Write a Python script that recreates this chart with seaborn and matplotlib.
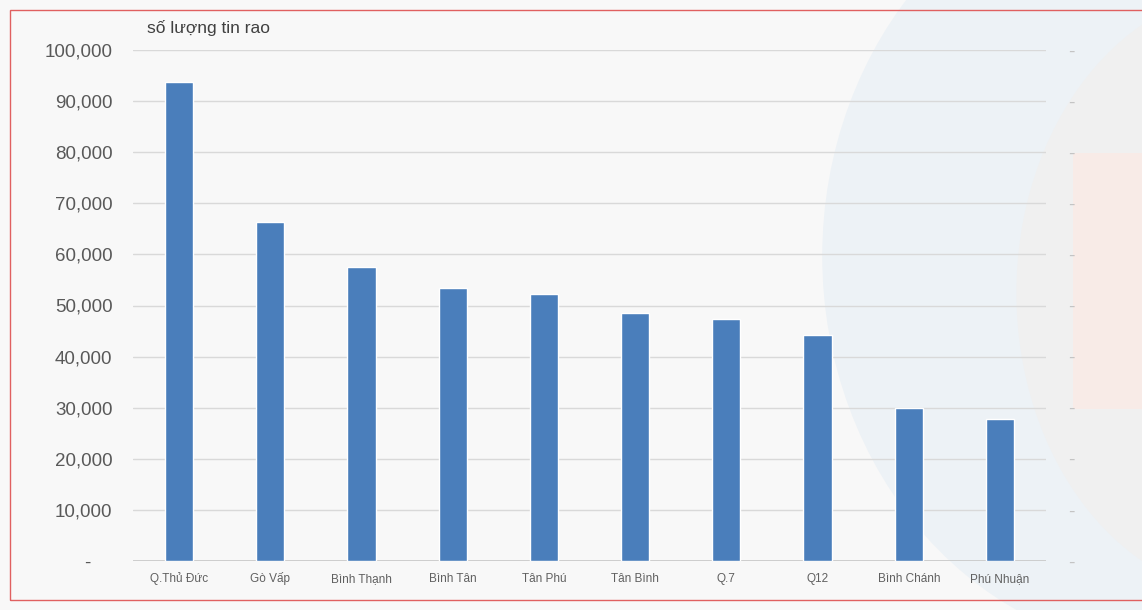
import matplotlib
matplotlib.use("Agg")
import matplotlib.pyplot as plt
import matplotlib.transforms as mtransforms
from matplotlib.patches import Ellipse, Rectangle
from matplotlib.ticker import FuncFormatter
import seaborn as sns
import pandas as pd

# Listings count by district
districts = ["Q.Thủ Đức", "Gò Vấp", "Bình Thạnh", "Bình Tân", "Tân Phú",
             "Tân Bình", "Q.7", "Q12", "Bình Chánh", "Phú Nhuận"]
listings = [93700, 66300, 57500, 53500, 52300, 48600, 47400, 44300, 30000, 27700]
y_ticks = [0, 10000, 20000, 30000, 40000, 50000, 60000, 70000, 80000, 90000, 100000]
y_title = "số lượng tin rao"

df = pd.DataFrame({"district": districts, "listings": listings})

sns.set_theme(style="white")
plt.rcParams["font.family"] = ["Liberation Sans", "DejaVu Sans"]

fig = plt.figure(figsize=(11.42, 6.10), dpi=100, facecolor="#f8f8f8")

# soft decorative background shapes (drawn beneath the axes)
fig.patches.append(Ellipse((1.03, 0.58), 0.62, 1.30, transform=fig.transFigure,
                           facecolor="#edf2f6", edgecolor="none", zorder=0))
fig.patches.append(Ellipse((1.10, 0.52), 0.42, 1.00, transform=fig.transFigure,
                           facecolor="#f0f0f0", edgecolor="none", zorder=0))
fig.patches.append(Rectangle((0.94, 0.33), 0.07, 0.42, transform=fig.transFigure,
                             facecolor="#f8ebe7", edgecolor="none", zorder=0))
# chart frame
fig.patches.append(Rectangle((10 / 1142, 10 / 610), 1.2, 1 - 20 / 610,
                             transform=fig.transFigure, fill=False,
                             edgecolor="#e06060", linewidth=1.0, zorder=1))

ax = fig.add_axes([133.4 / 1142, (610 - 561) / 610, 912.2 / 1142, 511 / 610])
ax.set_facecolor("none")

sns.barplot(data=df, x="district", y="listings", color="#4a7ebb",
            width=0.31, saturation=1, ax=ax, zorder=3)

ax.set_ylim(0, 100000)
ax.set_xlim(-0.5, len(districts) - 0.5)
ax.set_yticks(y_ticks)
ax.yaxis.set_major_formatter(
    FuncFormatter(lambda v, p: "-    " if v == 0 else f"{int(v):,}"))
ax.grid(axis="y", color="#d9d9d9", linewidth=1.0, zorder=0)
ax.axhline(0, color="#c8c8c8", linewidth=1.2, zorder=2)
for s in ax.spines.values():
    s.set_visible(False)

ax.tick_params(axis="y", length=0, pad=15, labelsize=13.5, labelcolor="#595959")
ax.tick_params(axis="x", length=0)
ax.set_xticklabels([])
ax.set_xlabel("")
ax.set_ylabel("")

# category names on a common baseline below the axis
xform = mtransforms.blended_transform_factory(ax.transData, ax.transAxes)
for i, name in enumerate(districts):
    ax.text(i, -0.041, name, transform=xform, ha="center", va="baseline",
            fontsize=8.5, color="#606060", family="Liberation Sans",
            clip_on=False)

# secondary axis on the right with dash labels
ax2 = ax.twinx()
ax2.set_facecolor("none")
ax2.set_ylim(ax.get_ylim())
ax2.set_yticks(y_ticks)
ax2.set_yticklabels(["-"] * len(y_ticks))
ax2.tick_params(axis="y", length=0, pad=16, labelsize=14, labelcolor="#c4c4c4")
for s in ax2.spines.values():
    s.set_visible(False)
ax2.grid(False)

ax.set_zorder(5)
ax2.set_zorder(6)

fig.text(147 / 1142, 1 - 28 / 610, y_title, fontsize=12.5, color="#404040",
         ha="left", va="center", zorder=7)

fig.savefig("out.png", dpi=100, facecolor=fig.get_facecolor())
